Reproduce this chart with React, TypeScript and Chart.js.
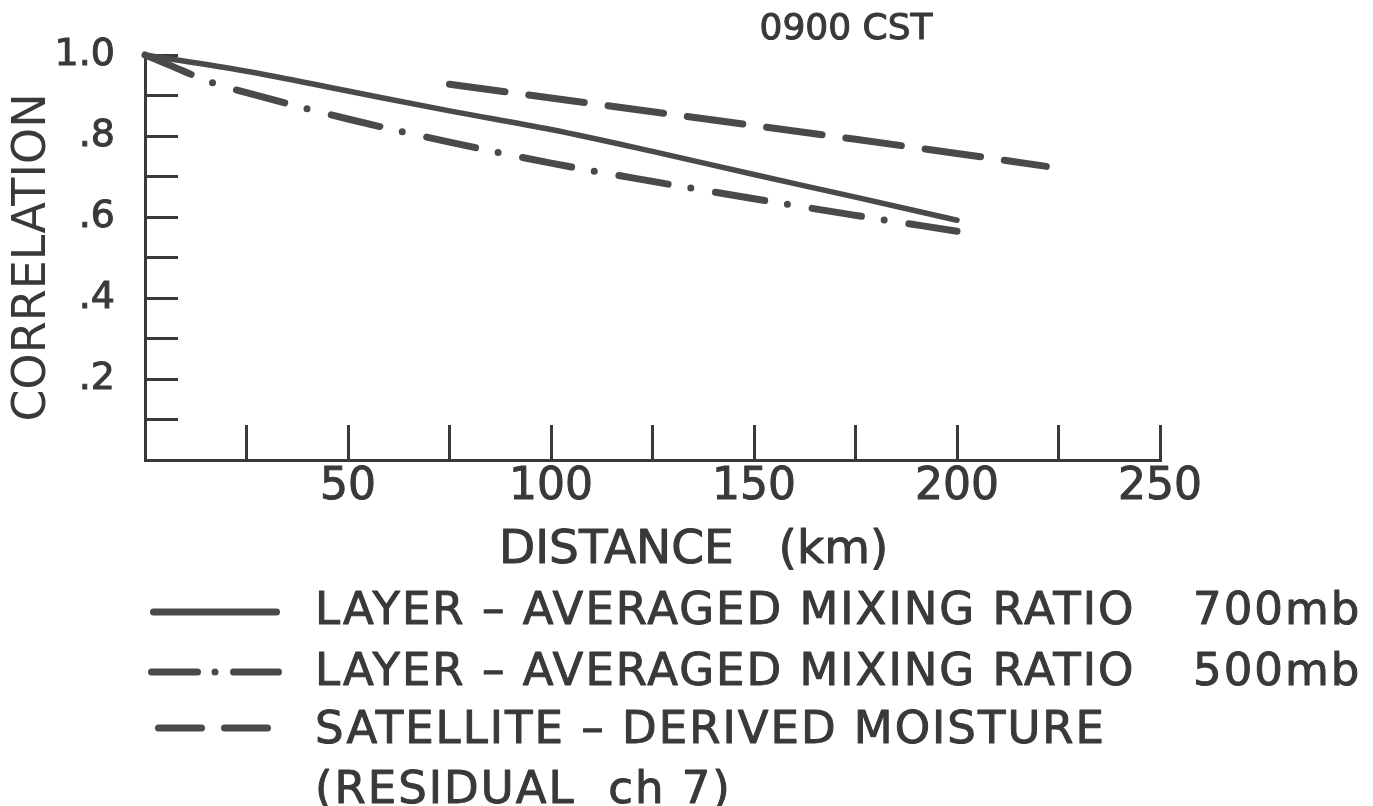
import React, { useEffect, useRef } from 'react';
import { Chart, registerables } from 'chart.js';

Chart.register(...registerables);

// ---- data ----
const distance700 = [0, 25, 50, 75, 100, 125, 150, 175, 200];
const corr700 = [1.0, 0.96, 0.911, 0.862, 0.816, 0.762, 0.705, 0.649, 0.592];

const distance500 = [0, 6, 17, 25, 50, 75, 100, 125, 150, 175, 200];
const corr500 = [1.0, 0.975, 0.93, 0.907, 0.842, 0.785, 0.733, 0.688, 0.645, 0.604, 0.565];

const distanceSat = [75, 100, 125, 150, 175, 200, 222];
const corrSat = [0.928, 0.894, 0.86, 0.826, 0.792, 0.757, 0.725];

const xLabeledTicks = [50, 100, 150, 200, 250];
const xTickLabels = ['50', '100', '150', '200', '250'];
const yLabeledTicks = [0.2, 0.4, 0.6, 0.8, 1.0];
const yTickLabels = ['.2', '.4', '.6', '.8', '1.0'];

const seriesLabels = [
  'LAYER – AVERAGED MIXING RATIO',
  'LAYER – AVERAGED MIXING RATIO',
  'SATELLITE – DERIVED MOISTURE',
];
const seriesLevels = ['700mb', '500mb', ''];
const legendExtraLine = '(RESIDUAL  ch 7)';
const chartTitle = '0900 CST';
const xTitle = 'DISTANCE   (km)';
const yTitle = 'CORRELATION';

const INK = '#3a3838';
const LINE = '#4c4949';
const FONT = '"DejaVu Sans", "Liberation Sans", sans-serif';

const toPoints = (xs: number[], ys: number[]) => xs.map((x, i) => ({ x, y: ys[i] }));

const inkText = (ctx: CanvasRenderingContext2D, text: string, x: number, y: number) => {
  ctx.fillText(text, x, y);
  ctx.strokeText(text, x, y);
};

const paperText = {
  id: 'paperText',
  afterDraw(chart: any) {
    const ctx = chart.ctx as CanvasRenderingContext2D;
    ctx.save();
    ctx.fillStyle = INK;
    ctx.textBaseline = 'alphabetic';
    ctx.lineJoin = 'round';

    // title
    ctx.font = `36px ${FONT}`;
    ctx.textAlign = 'center';
    (ctx as any).letterSpacing = '0px';
    ctx.strokeStyle = INK;
    ctx.lineWidth = 1;
    inkText(ctx, chartTitle, 846, 39);

    // x-axis title
    ctx.font = `47px ${FONT}`;
    ctx.textAlign = 'left';
    inkText(ctx, xTitle, 499, 563);

    // legend
    const lineYs = [612, 672, 728];
    const baseYs = [624, 685, 743];
    const samples: Array<[number, number, number[]]> = [
      [153.5, 276.5, []],
      [151.5, 278.5, [46, 17.5, 0, 18.5]],
      [158.5, 269.5, [43, 23]],
    ];
    chart.data.datasets.forEach((ds: any, i: number) => {
      const [x0, x1, dash] = samples[i];
      ctx.beginPath();
      ctx.strokeStyle = LINE;
      ctx.lineWidth = 7;
      ctx.lineCap = 'round';
      ctx.setLineDash(dash);
      ctx.moveTo(x0, lineYs[i]);
      ctx.lineTo(x1, lineYs[i]);
      ctx.stroke();
      ctx.setLineDash([]);

      ctx.font = `45px ${FONT}`;
      (ctx as any).letterSpacing = '2px';
      ctx.textAlign = 'left';
      ctx.strokeStyle = INK;
      ctx.lineWidth = 1;
      inkText(ctx, seriesLabels[i], 315, baseYs[i]);
      if (seriesLevels[i]) inkText(ctx, seriesLevels[i], 1193, baseYs[i]);
    });
    inkText(ctx, legendExtraLine, 315, 803);
    ctx.restore();
  },
};

export default function App() {
  const ref = useRef<HTMLCanvasElement | null>(null);

  useEffect(() => {
    if (!ref.current) return;
    const chart = new Chart(ref.current, {
      type: 'line',
      data: {
        datasets: [
          {
            label: `${seriesLabels[0]} ${seriesLevels[0]}`,
            data: toPoints(distance700, corr700),
            borderColor: LINE,
            borderWidth: 5.5,
            cubicInterpolationMode: 'monotone',
            borderCapStyle: 'round',
            pointRadius: 0,
            clip: false,
          },
          {
            label: `${seriesLabels[1]} ${seriesLevels[1]}`,
            data: toPoints(distance500, corr500),
            borderColor: LINE,
            borderWidth: 7,
            borderDash: [50, 23, 0, 25],
            cubicInterpolationMode: 'monotone',
            borderCapStyle: 'round',
            pointRadius: 0,
            clip: false,
          },
          {
            label: `${seriesLabels[2]} ${legendExtraLine}`,
            data: toPoints(distanceSat, corrSat),
            borderColor: LINE,
            borderWidth: 7,
            borderDash: [56, 24],
            borderCapStyle: 'round',
            pointRadius: 0,
            clip: false,
          },
        ],
      },
      options: {
        animation: false,
        responsive: false,
        devicePixelRatio: 1,
        layout: { padding: { top: 55, right: 213, left: 0, bottom: 0 } },
        plugins: {
          legend: { display: false },
          title: { display: false },
          tooltip: { enabled: false },
        },
        scales: {
          x: {
            type: 'linear',
            min: 0,
            max: 250,
            afterFit: (s: any) => {
              s.height = 346;
              s.paddingLeft = 0;
              s.paddingRight = 0;
            },
            border: { display: true, color: INK, width: 3 },
            grid: {
              drawOnChartArea: false,
              drawTicks: true,
              tickLength: -35,
              color: INK,
              lineWidth: 3,
            },
            ticks: {
              stepSize: 25,
              autoSkip: false,
              maxRotation: 0,
              padding: 36,
              color: INK,
              textStrokeColor: INK,
              textStrokeWidth: 1,
              font: { family: FONT, size: 44 },
              callback: (v: any) => {
                const idx = xLabeledTicks.findIndex((t) => Math.abs(t - Number(v)) < 1e-6);
                return idx >= 0 ? xTickLabels[idx] : '';
              },
            },
          },
          y: {
            type: 'linear',
            min: 0,
            max: 1,
            afterFit: (s: any) => {
              s.width = 145;
              s.paddingTop = 0;
              s.paddingBottom = 0;
            },
            border: { display: true, color: INK, width: 3 },
            grid: {
              drawOnChartArea: false,
              drawTicks: true,
              tickLength: -33,
              color: INK,
              lineWidth: 3,
            },
            ticks: {
              stepSize: 0.1,
              autoSkip: false,
              padding: 63,
              color: INK,
              textStrokeColor: INK,
              textStrokeWidth: 1,
              font: { family: FONT, size: 38 },
              callback: (v: any) => {
                const idx = yLabeledTicks.findIndex((t) => Math.abs(t - Number(v)) < 1e-6);
                return idx >= 0 ? yTickLabels[idx] : '';
              },
            },
            title: {
              display: true,
              text: yTitle,
              color: INK,
              font: { family: FONT, size: 46, lineHeight: 1.2 },
              padding: { top: 5, bottom: 0 },
            },
          },
        },
      },
      plugins: [paperText],
    } as any);
    return () => chart.destroy();
  }, []);

  return (
    <div style={{ position: 'absolute', left: 0, top: 0, width: 1373, height: 806 }}>
      <canvas ref={ref} width={1373} height={806} style={{ display: 'block' }} />
    </div>
  );
}
